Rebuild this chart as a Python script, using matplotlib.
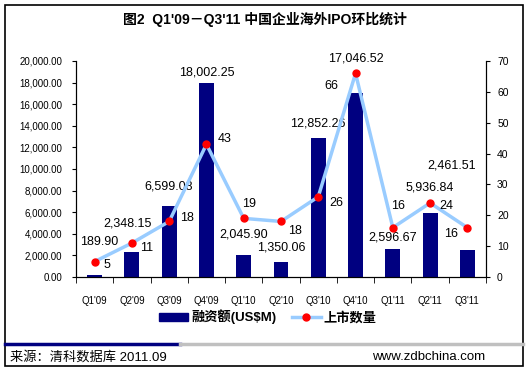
import numpy as np
import matplotlib
matplotlib.use('Agg')
import matplotlib.pyplot as plt
from matplotlib.lines import Line2D
from matplotlib.patches import Rectangle, Patch

plt.rcParams['font.family'] = ['Liberation Sans', 'Noto Sans CJK SC', 'DejaVu Sans']

# data
quarters = ["Q1'09", "Q2'09", "Q3'09", "Q4'09", "Q1'10", "Q2'10",
            "Q3'10", "Q4'10", "Q1'11", "Q2'11", "Q3'11"]
amount = [189.90, 2348.15, 6599.08, 18002.25, 2045.90, 1350.06,
          12852.26, 17046.52, 2596.67, 5936.84, 2461.51]
count = [5, 11, 18, 43, 19, 18, 26, 66, 16, 24, 16]

# label offsets in pixels (dx, dy), placed as in the original
amt_off = [(5, 33), (-4, 28), (-1, 19), (0, 10), (0, 20), (0, 15),
           (0, 15), (0, 34), (0, 11), (0, 25), (-16, 85)]
cnt_off = [(12, -3), (15, -5), (18, 3), (18, 5), (5, 14), (14, -10),
           (18, -6), (-24, -13), (5, 22), (16, -3), (-16, -6)]

navy = '#000080'
lightblue = '#99CCFF'

fig = plt.figure(figsize=(5.30, 3.72), dpi=100)
fig.patch.set_facecolor('white')

# outer frame
fig.patches.append(Rectangle((5 / 530, 1 - 366 / 372), 518 / 530, 361 / 372,
                             transform=fig.transFigure, fill=False,
                             edgecolor='black', linewidth=1.2))
# separator line above footer
fig.add_artist(Line2D([5 / 530, 180 / 530], [1 - 344 / 372] * 2,
                      transform=fig.transFigure, color=navy, linewidth=2.5))
fig.add_artist(Line2D([180 / 530, 523 / 530], [1 - 344 / 372] * 2,
                      transform=fig.transFigure, color='#C0C0C0', linewidth=2.5))

fig.text(0.5, 1 - 19 / 372, "图2  Q1'09－Q3'11 中国企业海外IPO环比统计",
         ha='center', va='center', fontsize=10, fontweight='bold')
fig.text(10 / 530, 1 - 357 / 372, "来源：清科数据库 2011.09",
         ha='left', va='center', fontsize=9.5)
fig.text(485 / 530, 1 - 357 / 372, "www.zdbchina.com",
         ha='right', va='center', fontsize=9.5)

ax = fig.add_axes([76 / 530, 1 - 277 / 372, 410 / 530, 216 / 372])
x = np.arange(len(quarters))
ax.bar(x, amount, width=0.4, color=navy, zorder=2)
ax.set_xlim(-0.5, len(quarters) - 0.5)
ax.set_ylim(0, 20000)
ax.set_yticks(np.arange(0, 20001, 2000))
ax.set_yticklabels(['{:,.2f}'.format(v) for v in np.arange(0, 20001, 2000)])
ax.set_xticks(x)
ax.set_xticklabels(quarters)
ax.set_xticks(np.arange(-0.5, len(quarters), 1), minor=True)
ax.tick_params(axis='x', which='major', length=0, pad=14, labelsize=7)
ax.tick_params(axis='x', which='minor', length=4, direction='out')
ax.tick_params(axis='y', length=3, direction='out', labelsize=7, pad=7)
ax.spines['top'].set_visible(False)

for xi, v, (dx, dy) in zip(x, amount, amt_off):
    ax.annotate('{:,.2f}'.format(v), (xi, v), xytext=(dx, dy),
                textcoords='offset pixels', ha='center', va='center',
                fontsize=9, zorder=5)

ax2 = ax.twinx()
ax2.plot(x, count, color=lightblue, linewidth=2.5, marker='o',
         markersize=5, markerfacecolor='red', markeredgecolor='red', zorder=3)
ax2.set_ylim(0, 70)
ax2.set_yticks(np.arange(0, 71, 10))
ax2.tick_params(axis='y', length=3, direction='out', labelsize=7.5, pad=5)
ax2.spines['top'].set_visible(False)

for xi, v, (dx, dy) in zip(x, count, cnt_off):
    ax2.annotate(str(v), (xi, v), xytext=(dx, dy),
                 textcoords='offset pixels', ha='center', va='center',
                 fontsize=9)

handles = [Patch(facecolor=navy, edgecolor=navy),
           Line2D([], [], color=lightblue, linewidth=2.5, marker='o',
                  markersize=5, markerfacecolor='red', markeredgecolor='red')]
fig.legend(handles, ['融资额(US$M)', '上市数量'], loc='center',
           bbox_to_anchor=(268 / 530, 1 - 317 / 372), ncol=2, frameon=False,
           prop={'size': 9.5, 'weight': 'bold'}, handlelength=2.2,
           handleheight=0.6, handletextpad=0.2, columnspacing=1.2)

fig.savefig('out.png', dpi=100, facecolor='white')
